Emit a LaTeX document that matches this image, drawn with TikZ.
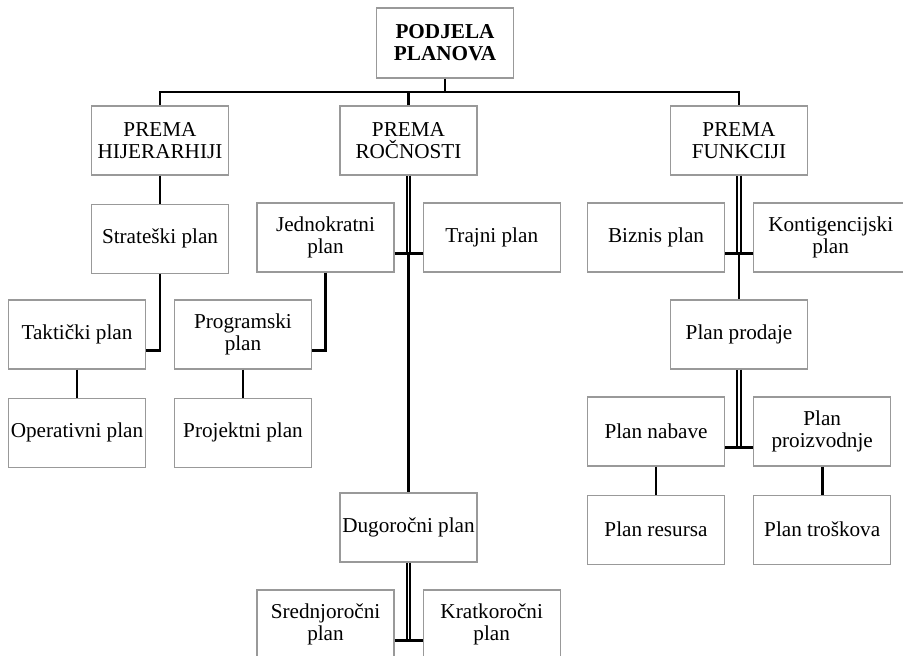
\documentclass[tikz,border=0pt]{standalone}
\usepackage{fontspec}
\setmainfont{Liberation Serif}
\usepackage{tikz}
\tikzstyle{block}=[draw=black!40, line width=0.6pt, fill=white, minimum width=68.5pt, minimum height=34.5pt, inner sep=1pt, align=center]
\tikzstyle{link}=[line width=1.3pt, black]
\tikzstyle{dlink}=[line width=1pt, double=white, double distance=0.7pt, black]
\usetikzlibrary{positioning,calc}

\begin{document}
\begin{tikzpicture}[x=0.5pt,y=-0.5pt,node distance=14pt,font=\fontsize{10.6}{10.9}\selectfont]
\clip (0,0) rectangle (903,655);
\fill[white] (0,0) rectangle (903,655);

\node (root) [block,minimum height=35pt] at (445,43) {\textbf{PODJELA}\\\textbf{PLANOVA}};
\node (hij) [block] at (160,140.5) {PREMA\\HIJERARHIJI};
\node (roc) [block] at (408.5,140.5) {PREMA\\ROČNOSTI};
\node (fun) [block] at (739,140.5) {PREMA\\FUNKCIJI};
\coordinate (bus) at (0,92);

% po hijerarhiji
\node (strat) [block,below=of hij] {Strateški plan};
\node (tak) [block] at (77,334.5) {Taktički plan};
\node (oper) [block,below=of tak] {Operativni plan};

% po ročnosti
\node (jed) [block] at (325.5,237.5) {Jednokratni\\plan};
\node (traj) [block,right=of jed] {Trajni plan};
\node (prog) [block] at (243,334.5) {Programski\\plan};
\node (proj) [block,below=of prog] {Projektni plan};
\node (dug) [block] at (408.5,527.5) {Dugoročni plan};
\node (sred) [block] at (325.5,624.5) {Srednjoročni\\plan};
\node (krat) [block,right=of sred] {Kratkoročni\\plan};

% po funkciji
\node (biz) [block] at (656,237.5) {Biznis plan};
\node (kont) [block,minimum width=77pt,right=of biz] {Kontigencijski\\plan};
\node (prod) [block] at (739,334.5) {Plan prodaje};
\node (nab) [block] at (656,431.5) {Plan nabave};
\node (proiz) [block,right=of nab] {Plan\\proizvodnje};
\node (res) [block,below=of nab] {Plan resursa};
\node (tros) [block,below=of proiz] {Plan troškova};

\draw[link] (root.south) -- (root.south|-bus);
\draw[link] (hij.north) |- (fun.north|-bus) -- (fun.north);
\draw[link] (roc.north) -- (roc.north|-bus);

\draw[link] (hij) -- (strat);
\draw[link] (strat.south) |- (tak.-13);
\draw[link] (tak) -- (oper);

\draw[link] (jed.south) |- (prog.-13);
\draw[link] (prog) -- (proj);
\draw[link] (roc.south|-jed.-13) -- (dug.north);
\draw[dlink] (roc.south) -- (roc.south|-jed.-13);
\draw[link] (jed.-13) -- (jed.-13-|traj.west);
\draw[dlink] (dug.south) -- (dug.south|-sred.-13);
\draw[link] (sred.-13) -- (sred.-13-|krat.west);

\draw[link] (fun.south|-biz.-13) -- (prod.north);
\draw[dlink] (fun.south) -- (fun.south|-biz.-13);
\draw[link] (biz.-13) -- (biz.-13-|kont.west);
\draw[dlink] (prod.south) -- (prod.south|-nab.-13);
\draw[link] (nab.-13) -- (nab.-13-|proiz.west);
\draw[link] (nab) -- (res);
\draw[link] (proiz) -- (tros);

\end{tikzpicture}
\end{document}
